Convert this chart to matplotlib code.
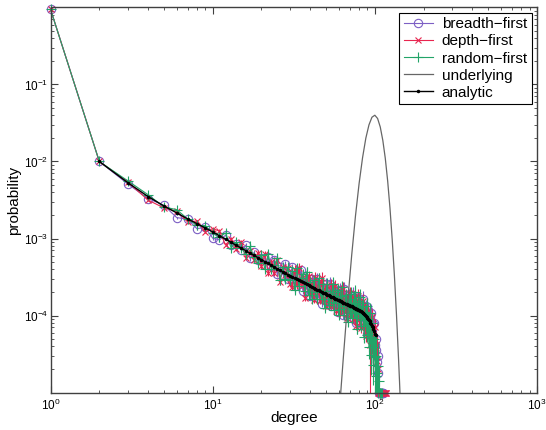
import matplotlib
matplotlib.use('Agg')
import matplotlib.pyplot as plt
import numpy as np
from matplotlib.ticker import LogLocator, FixedLocator, LogFormatterMathtext, NullFormatter

plt.rcParams['font.family'] = ['Liberation Sans', 'DejaVu Sans']
plt.rcParams['mathtext.fontset'] = 'custom'
plt.rcParams['mathtext.rm'] = 'Liberation Sans'
plt.rcParams['mathtext.it'] = 'Liberation Sans:italic'
plt.rcParams['mathtext.bf'] = 'Liberation Sans:bold'

# ---------------- data ----------------
degree = list(range(1, 125))

breadth_first = [
    0.95, 1.0e-2, 5.1e-3, 3.3e-3, 2.7e-3, 1.87e-3, 1.78e-3, 1.34e-3, 1.40e-3, 1.01e-3,
    9.6e-4, 1.10e-3, 8.3e-4, 8.6e-4, 7.1e-4, 8.2e-4, 5.5e-4, 6.6e-4, 5.2e-4, 5.6e-4,
    4.5e-4, 5.7e-4, 4.4e-4, 5.3e-4, 3.45e-4, 4.3e-4, 3.4e-4, 4.6e-4, 3.0e-4, 3.4e-4,
    4.25e-4, 2.43e-4, 3.4e-4, 2.7e-4, 3.9e-4, 2.1e-4, 3.1e-4, 2.3e-4, 2.7e-4, 1.8e-4,
    3.0e-4, 1.94e-4, 2.35e-4, 3.0e-4, 1.7e-4, 2.5e-4, 1.42e-4, 2.2e-4, 1.84e-4, 2.55e-4,
    1.49e-4, 2.1e-4, 2.6e-4, 1.32e-4, 1.72e-4, 2.2e-4, 1.41e-4, 1.96e-4, 1.12e-4, 1.73e-4,
    2.17e-4, 1.37e-4, 1.88e-4, 1.03e-4, 2.2e-4, 1.22e-4, 1.55e-4, 1.04e-4, 1.84e-4, 1.27e-4,
    1.58e-4, 1.05e-4, 1.87e-4, 8.9e-5, 1.38e-4, 1.6e-4, 7.9e-5, 1.38e-4, 1.07e-4, 1.64e-4,
    8.6e-5, 1.41e-4, 1.0e-4, 1.64e-4, 7.5e-5, 1.25e-4, 8.1e-5, 1.32e-4, 5.8e-5, 1.02e-4,
    1.17e-4, 6.1e-5, 1.0e-4, 7.3e-5, 1.09e-4, 5.6e-5, 7.7e-5, 5.3e-5, 8.1e-5, 4.1e-5,
    5.0e-5, 3.6e-5, 2.5e-5, 3.0e-5, 1.8e-5, 1.0e-5, 1.0e-5, 1.0e-5, 1.0e-5, 1.0e-5,
    1.0e-5, 1.0e-5, 1.0e-5,
]
depth_first = [
    0.95, 1.0e-2, 5.4e-3, 3.15e-3, 2.5e-3, 2.26e-3, 1.66e-3, 1.68e-3, 1.23e-3, 1.34e-3,
    1.25e-3, 8.3e-4, 9.8e-4, 7.3e-4, 9.0e-4, 5.6e-4, 6.8e-4, 5.3e-4, 6.5e-4, 4.35e-4,
    6.3e-4, 3.55e-4, 4.9e-4, 3.6e-4, 5.3e-4, 2.7e-4, 4.25e-4, 3.4e-4, 4.1e-4, 2.6e-4,
    2.36e-4, 3.95e-4, 2.5e-4, 4.15e-4, 2.5e-4, 3.2e-4, 1.7e-4, 2.8e-4, 3.3e-4, 2.04e-4,
    2.57e-4, 1.6e-4, 3.1e-4, 1.95e-4, 2.65e-4, 1.55e-4, 3.05e-4, 1.68e-4, 2.23e-4, 1.33e-4,
    2.42e-4, 1.64e-4, 1.34e-4, 2.46e-4, 1.38e-4, 1.86e-4, 2.4e-4, 1.14e-4, 1.92e-4, 1.33e-4,
    1.09e-4, 2.05e-4, 1.35e-4, 2.2e-4, 1.16e-4, 1.72e-4, 9.2e-5, 1.79e-4, 1.16e-4, 1.94e-4,
    1.06e-4, 1.57e-4, 9.0e-5, 1.71e-4, 1.13e-4, 7.4e-5, 1.53e-4, 1.02e-4, 1.79e-4, 8.8e-5,
    1.5e-4, 6.8e-5, 1.28e-4, 9.3e-5, 1.55e-4, 7.3e-5, 1.21e-4, 5.4e-5, 1.06e-4, 7.4e-5,
    1.13e-4, 6.5e-5, 4.2e-5, 9.3e-5, 6.2e-5, 9.6e-5, 3.2e-5, 6.6e-5, 4.3e-5, 7.0e-5,
    3.3e-5, 4.2e-5, 2.6e-5, 1.0e-5, 2.0e-5, 1.0e-5, 1.0e-5, 1.0e-5, 1.0e-5, 1.0e-5,
    1.0e-5, 1.0e-5, 1.0e-5, 1.0e-5, 1.0e-5, 1.0e-5, 1.0e-5, 1.0e-5,
]
random_first = [
    0.95, 1.0e-2, 5.6e-3, 3.7e-3, 2.57e-3, 2.37e-3, 1.8e-3, 1.48e-3, 1.47e-3, 1.18e-3,
    1.04e-3, 1.18e-3, 7.6e-4, 9.0e-4, 7.5e-4, 6.25e-4, 7.9e-4, 5.7e-4, 4.8e-4, 6.1e-4,
    4.0e-4, 6.2e-4, 4.05e-4, 4.5e-4, 5.5e-4, 2.9e-4, 4.25e-4, 3.0e-4, 4.25e-4, 2.93e-4,
    3.8e-4, 2.13e-4, 4.1e-4, 2.43e-4, 3.05e-4, 3.5e-4, 2.1e-4, 3.7e-4, 1.85e-4, 2.76e-4,
    1.64e-4, 2.85e-4, 2.0e-4, 1.63e-4, 3.05e-4, 2.07e-4, 1.62e-4, 2.57e-4, 1.26e-4, 2.09e-4,
    2.6e-4, 1.37e-4, 1.88e-4, 1.5e-4, 2.58e-4, 1.18e-4, 2.0e-4, 1.47e-4, 2.16e-4, 1.02e-4,
    1.78e-4, 1.22e-4, 2.33e-4, 1.32e-4, 1.02e-4, 1.86e-4, 1.48e-4, 8.3e-5, 1.63e-4, 1.07e-4,
    1.91e-4, 9.2e-5, 1.42e-4, 1.08e-4, 2.0e-4, 9.2e-5, 1.46e-4, 6.6e-5, 1.55e-4, 1.05e-4,
    1.73e-4, 7.3e-5, 1.33e-4, 8.7e-5, 1.44e-4, 5.2e-5, 1.11e-4, 7.4e-5, 1.34e-4, 5.6e-5,
    9.0e-5, 3.9e-5, 1.09e-4, 5.7e-5, 3.1e-5, 8.1e-5, 3.85e-5, 2.3e-5, 5.0e-5, 2.9e-5,
    1.65e-5, 3.0e-5, 1.8e-5, 2.2e-5, 1.0e-5, 1.4e-5, 1.0e-5, 1.0e-5, 1.0e-5, 1.0e-5,
]

# relative error bar half-lengths
breadth_rel_err = [
    0.00, 0.01, 0.02, 0.02, 0.03, 0.03, 0.03, 0.04, 0.04, 0.04,
    0.05, 0.05, 0.05, 0.06, 0.06, 0.06, 0.07, 0.07, 0.07, 0.08,
    0.08, 0.08, 0.09, 0.09, 0.09, 0.10, 0.10, 0.10, 0.11, 0.11,
    0.11, 0.08, 0.12, 0.09, 0.13, 0.10, 0.14, 0.09, 0.12, 0.10,
    0.15, 0.10, 0.13, 0.18, 0.11, 0.14, 0.10, 0.16, 0.12, 0.20,
    0.12, 0.15, 0.22, 0.11, 0.14, 0.18, 0.12, 0.16, 0.10, 0.15,
    0.22, 0.13, 0.18, 0.12, 0.25, 0.14, 0.16, 0.12, 0.20, 0.15,
    0.18, 0.13, 0.24, 0.12, 0.17, 0.20, 0.12, 0.18, 0.15, 0.22,
    0.15, 0.20, 0.16, 0.25, 0.14, 0.20, 0.16, 0.22, 0.14, 0.20,
    0.25, 0.18, 0.22, 0.20, 0.28, 0.20, 0.25, 0.22, 0.30, 0.25,
    0.35, 0.40, 0.45, 0.40, 0.50, 0.00, 0.00, 0.00, 0.00, 0.00,
    0.00, 0.00, 0.00,
]
depth_rel_err = [
    0.00, 0.01, 0.02, 0.02, 0.03, 0.03, 0.03, 0.04, 0.04, 0.05,
    0.05, 0.05, 0.06, 0.06, 0.06, 0.07, 0.07, 0.07, 0.08, 0.08,
    0.09, 0.08, 0.10, 0.09, 0.11, 0.09, 0.12, 0.10, 0.11, 0.10,
    0.10, 0.14, 0.11, 0.16, 0.10, 0.13, 0.10, 0.12, 0.15, 0.11,
    0.12, 0.10, 0.17, 0.11, 0.14, 0.10, 0.19, 0.11, 0.13, 0.10,
    0.16, 0.12, 0.10, 0.20, 0.11, 0.14, 0.19, 0.10, 0.15, 0.12,
    0.11, 0.20, 0.13, 0.22, 0.12, 0.16, 0.11, 0.20, 0.13, 0.22,
    0.12, 0.18, 0.12, 0.22, 0.14, 0.12, 0.20, 0.14, 0.24, 0.13,
    0.22, 0.13, 0.18, 0.15, 0.24, 0.14, 0.20, 0.15, 0.18, 0.16,
    0.22, 0.18, 1.00, 0.20, 0.22, 0.25, 0.40, 0.25, 0.35, 0.30,
    0.40, 0.45, 1.00, 0.00, 0.50, 0.00, 0.00, 0.00, 0.00, 0.00,
    0.00, 0.00, 0.00, 0.00, 0.00, 0.00, 0.00, 0.00,
]
random_rel_err = [
    0.00, 0.01, 0.02, 0.02, 0.03, 0.03, 0.03, 0.04, 0.04, 0.04,
    0.05, 0.05, 0.05, 0.06, 0.06, 0.06, 0.07, 0.07, 0.07, 0.08,
    0.08, 0.09, 0.08, 0.09, 0.11, 0.08, 0.10, 0.09, 0.11, 0.09,
    0.12, 0.09, 0.14, 0.10, 0.11, 0.13, 0.10, 0.15, 0.10, 0.12,
    0.10, 0.15, 0.11, 0.10, 0.18, 0.12, 0.10, 0.15, 0.10, 0.13,
    0.18, 0.10, 0.14, 0.11, 0.21, 0.10, 0.15, 0.12, 0.19, 0.10,
    0.17, 0.12, 0.22, 0.12, 0.11, 0.19, 0.14, 0.11, 0.18, 0.12,
    0.22, 0.12, 0.17, 0.14, 0.26, 0.12, 0.18, 0.12, 0.22, 0.15,
    0.26, 0.14, 0.21, 0.15, 0.24, 0.15, 0.21, 0.17, 0.26, 0.18,
    0.24, 0.30, 0.32, 0.25, 0.45, 0.30, 0.40, 0.45, 0.35, 1.00,
    0.60, 1.00, 0.60, 1.00, 0.60, 0.60, 0.00, 0.00, 0.00, 0.00,
]

analytic_degree = list(range(2, 102))
analytic = [
    1.00e-2, 5.3e-3, 3.5e-3, 2.65e-3, 2.15e-3, 1.80e-3, 1.56e-3, 1.37e-3, 1.22e-3,
    1.088e-3, 9.80e-4, 8.90e-4, 8.15e-4, 7.50e-4, 6.94e-4, 6.45e-4, 6.03e-4, 5.65e-4, 5.31e-4,
    5.01e-4, 4.74e-4, 4.49e-4, 4.27e-4, 4.06e-4, 3.88e-4, 3.70e-4, 3.55e-4, 3.40e-4, 3.26e-4,
    3.15e-4, 3.04e-4, 2.95e-4, 2.86e-4, 2.77e-4, 2.69e-4, 2.61e-4, 2.54e-4, 2.47e-4, 2.40e-4,
    2.34e-4, 2.28e-4, 2.23e-4, 2.17e-4, 2.12e-4, 2.07e-4, 2.03e-4, 1.98e-4, 1.94e-4, 1.90e-4,
    1.86e-4, 1.82e-4, 1.79e-4, 1.76e-4, 1.72e-4, 1.69e-4, 1.66e-4, 1.63e-4, 1.60e-4, 1.57e-4,
    1.55e-4, 1.52e-4, 1.50e-4, 1.47e-4, 1.45e-4, 1.43e-4, 1.41e-4, 1.38e-4, 1.36e-4, 1.34e-4,
    1.32e-4, 1.31e-4, 1.29e-4, 1.27e-4, 1.25e-4, 1.23e-4, 1.22e-4, 1.20e-4, 1.19e-4, 1.17e-4,
    1.15e-4, 1.13e-4, 1.11e-4, 1.09e-4, 1.07e-4, 1.04e-4, 1.01e-4, 9.8e-5, 9.6e-5, 9.3e-5,
    9.0e-5, 8.7e-5, 8.4e-5, 8.1e-5, 7.8e-5, 7.4e-5, 7.0e-5, 6.6e-5, 6.2e-5, 5.8e-5,
    5.5e-5,
]

underlying_degree = [60, 62, 64, 68, 72, 76, 80, 84, 88, 92, 96, 100, 104, 108,
                     112, 116, 120, 124, 128, 132, 136, 140, 142, 144]
underlying = [4.5e-6, 1.19e-5, 2.92e-5, 1.50e-4, 6.08e-4, 1.98e-3, 5.2e-3, 1.12e-2,
              2.01e-2, 2.99e-2, 3.76e-2, 3.99e-2, 3.62e-2, 2.81e-2, 1.88e-2, 1.10e-2,
              5.57e-3, 2.47e-3, 9.66e-4, 3.33e-4, 1.02e-4, 2.76e-5, 1.38e-5, 6.7e-6]

labels = ['breadth\u2212first', 'depth\u2212first', 'random\u2212first', 'underlying', 'analytic']

# ---------------- figure ----------------
fig = plt.figure(figsize=(5.46, 4.30), dpi=100)
ax = fig.add_axes([50.5 / 546, 1 - 392.5 / 430, (537 - 50.5) / 546, (392.5 - 7.5) / 430])
ax.set_xscale('log')
ax.set_yscale('log')

series = [
    (breadth_first, breadth_rel_err, '#7d5fc4', 'o', 6.0),
    (depth_first, depth_rel_err, '#e8254f', 'x', 5.0),
    (random_first, random_rel_err, '#22a468', '+', 7.0),
]
for (vals, rel, color, marker, ms), lab in zip(series, labels[:3]):
    v = np.asarray(vals)
    e = v * np.asarray(rel)
    k = degree[:len(v)]
    ax.errorbar(k, v, yerr=e, fmt='none', ecolor=color, elinewidth=0.8, capsize=0)
    ax.plot(k, v, color=color, lw=0.8, marker=marker, ms=ms, mfc='none',
            mec=color, mew=0.8, label=lab, clip_on=False)

ax.plot(underlying_degree, underlying, color='0.4', lw=0.9, label=labels[3])
ax.plot(analytic_degree, analytic, color='black', lw=1.0, marker='.', ms=3.0,
        label=labels[4])

ax.set_xlim(1, 1000)
ax.set_ylim(1e-5, 1)
ax.yaxis.set_major_locator(FixedLocator([1e-4, 1e-3, 1e-2, 1e-1]))
ax.yaxis.set_major_formatter(LogFormatterMathtext())
ax.yaxis.set_minor_locator(LogLocator(base=10, subs=(2, 3, 4, 5, 6, 7, 8, 9)))
ax.yaxis.set_minor_formatter(NullFormatter())
ax.xaxis.set_major_locator(FixedLocator([1, 10, 100, 1000]))
ax.xaxis.set_major_formatter(LogFormatterMathtext())
ax.xaxis.set_minor_locator(LogLocator(base=10, subs=(2, 3, 4, 5, 6, 7, 8, 9)))
ax.xaxis.set_minor_formatter(NullFormatter())

ax.tick_params(which='both', direction='in', top=True, right=True, labelsize=8.5,
               color='0.25')
ax.tick_params(which='major', length=5, width=0.8)
ax.tick_params(axis='y', which='major', pad=1.5)
ax.tick_params(axis='x', which='major', pad=3.5)
ax.tick_params(which='minor', length=2.5, width=0.6)
for s in ax.spines.values():
    s.set_color('0.25')
    s.set_linewidth(1.0)

ax.set_xlabel('degree', fontsize=11)
ax.set_ylabel('probability', fontsize=11)
ax.xaxis.set_label_coords(0.5, (392.5 - 411) / 385)
ax.yaxis.set_label_coords((21 - 50.5) / 486.5, 0.5)

leg = ax.legend(loc='upper right', fontsize=11, frameon=True, fancybox=False,
                edgecolor='black', framealpha=1, numpoints=1, handlelength=1.9,
                borderaxespad=0.35, labelspacing=0.2, borderpad=0.3, handletextpad=0.6)
leg.get_frame().set_linewidth(0.8)

fig.savefig('out.png', dpi=100)
